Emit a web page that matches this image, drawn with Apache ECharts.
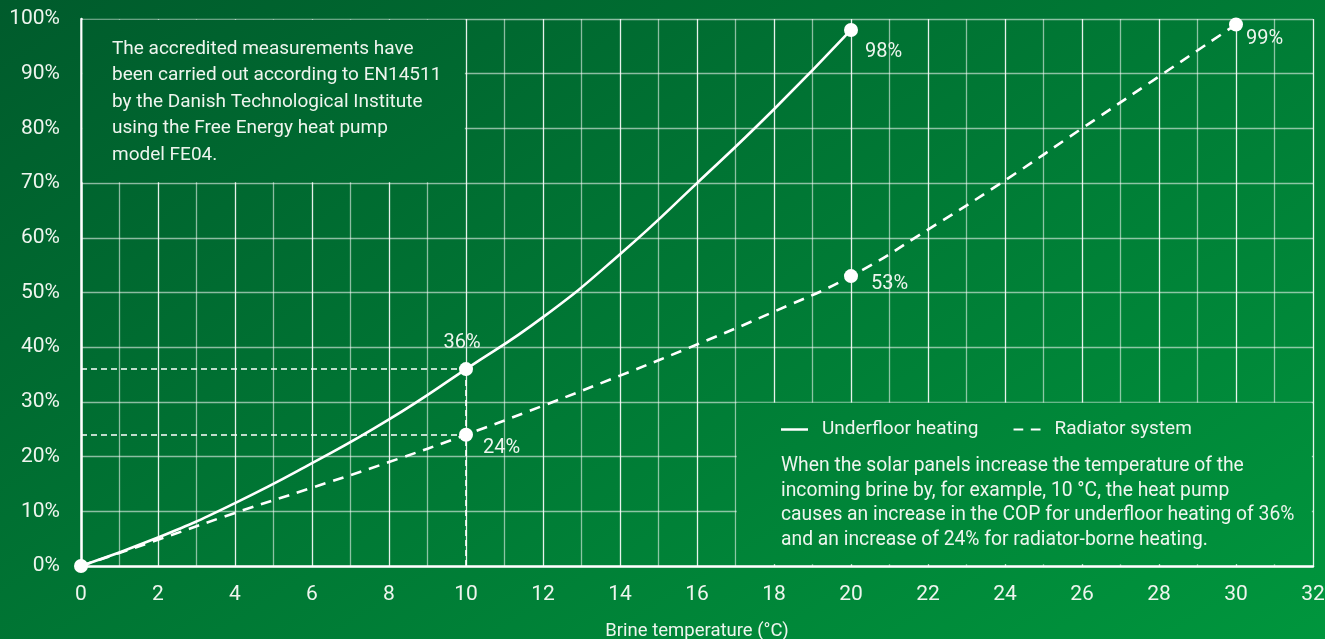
<!DOCTYPE html>
<html>
<head>
<meta charset="utf-8">
<script src="https://cdn.jsdelivr.net/npm/echarts@6/dist/echarts.min.js"></script>
<style>
html,body{margin:0;padding:0;background:#006a30;overflow:hidden;}
#chart{width:1325px;height:639px;}
</style>
</head>
<body>
<div id="chart"></div>
<script>
// ---- data ----
const xTicks = [0, 2, 4, 6, 8, 10, 12, 14, 16, 18, 20, 22, 24, 26, 28, 30, 32];
const yTicks = [0, 10, 20, 30, 40, 50, 60, 70, 80, 90, 100];
const underfloorX = [0, 2, 4, 6, 8, 10, 12, 14, 16, 18, 20];
const underfloorY = [0, 5.2, 11.5, 18.8, 26.8, 36, 45.5, 57, 70, 83.5, 98];
const radiatorX = [0, 2, 4, 6, 8, 10, 12, 14, 16, 18, 20, 22, 24, 26, 28, 30];
const radiatorY = [0, 4.8, 9.7, 14.3, 19, 24, 29.3, 34.8, 40.5, 46.5, 53, 61.5, 70.5, 80, 89.5, 99];
const pointX = [0, 10, 10, 20, 20, 30];
const pointY = [0, 36, 24, 98, 53, 99];
const pointLabels = ['', '36%', '24%', '98%', '53%', '99%'];
const seriesNames = ['Underfloor heating', 'Radiator system'];
const xAxisName = 'Brine temperature (°C)';
const noteTop = 'The accredited measurements have\nbeen carried out according to EN14511\nby the Danish Technological Institute\nusing the Free Energy heat pump\nmodel FE04.';
const noteBottom = 'When the solar panels increase the temperature of the\nincoming brine by, for example, 10 °C, the heat pump\ncauses an increase in the COP for underfloor heating of 36%\nand an increase of 24% for radiator-borne heating.';
// ---- end data ----

const FONT = "'Roboto',sans-serif";
const TXT = '#eef5ee';
const bgGrad = {
  type: 'linear', global: true, x: 0, y: 0, x2: 659, y2: 1055,
  colorStops: [{offset: 0, color: '#005b2c'}, {offset: 1, color: '#00963d'}]
};

const zip = (xs, ys) => xs.map((x, i) => [x, ys[i]]);

const labelPlace = {
  '36%': {position: 'top', distance: 9, offset: [-4, 0]},
  '24%': {position: 'right', distance: 10, offset: [0, 13]},
  '98%': {position: 'right', distance: 7, offset: [0, 22]},
  '53%': {position: 'right', distance: 13, offset: [0, 8]},
  '99%': {position: 'right', distance: 3, offset: [0, 15]}
};

const pointData = pointX.map((x, i) => {
  const t = pointLabels[i];
  const item = {value: [x, pointY[i]]};
  if (t) {
    item.label = Object.assign({show: true, formatter: t}, labelPlace[t]);
  }
  return item;
});

const refX = pointX[1], refU = pointY[1], refR = pointY[2];

const chart = echarts.init(document.getElementById('chart'), null, {renderer: 'canvas'});
chart.setOption({
  backgroundColor: bgGrad,
  animation: false,
  textStyle: {fontFamily: FONT},
  grid: {left: 81, right: 12, top: 19, bottom: 73, containLabel: false, outerBoundsMode: 'none'},
  xAxis: {
    type: 'value', min: xTicks[0], max: xTicks[xTicks.length - 1], interval: 1,
    name: xAxisName, nameLocation: 'middle', nameGap: 56,
    nameTextStyle: {color: TXT, fontSize: 18.5, fontFamily: FONT},
    axisLine: {show: true, onZero: false, lineStyle: {color: '#ffffff', width: 2.5}},
    axisTick: {show: false},
    axisLabel: {
      color: TXT, fontSize: 21, fontFamily: FONT, margin: 18,
      formatter: v => (xTicks.indexOf(v) >= 0 ? String(v) : '')
    },
    splitLine: {show: true, lineStyle: {color: ['rgba(255,255,255,0.9)', 'rgba(255,255,255,0.55)'], width: 1.3}}
  },
  yAxis: {
    type: 'value', min: yTicks[0], max: yTicks[yTicks.length - 1], interval: 10,
    axisLine: {show: true, onZero: false, lineStyle: {color: '#ffffff', width: 2.5}},
    axisTick: {show: false},
    axisLabel: {color: TXT, fontSize: 21, fontFamily: FONT, margin: 21, formatter: '{value}%'},
    splitLine: {show: true, lineStyle: {color: 'rgba(255,255,255,0.55)', width: 1.3}}
  },
  legend: {
    data: [
      {name: seriesNames[0], icon: 'rect'},
      {name: seriesNames[1], icon: 'path://M0,0H9V2H0ZM16,0H25V2H16Z'}
    ],
    left: 781, top: 420, padding: 0,
    itemWidth: 27, itemHeight: 2.5, itemGap: 35,
    textStyle: {color: TXT, fontSize: 19, fontFamily: FONT, padding: [0, 0, 0, 9]},
    selectedMode: false
  },
  graphic: [
    {
      type: 'text', left: 112, top: 36, z: 10,
      style: {text: noteTop, fill: TXT, font: '19px ' + FONT, lineHeight: 26.4}
    },
    {
      type: 'text', left: 781, top: 454, z: 10,
      style: {text: noteBottom, fill: TXT, font: '19.3px ' + FONT, lineHeight: 24.5}
    }
  ],
  series: [
    {
      name: seriesNames[0], type: 'line', smooth: true, symbol: 'none', z: 3,
      data: zip(underfloorX, underfloorY),
      lineStyle: {color: '#ffffff', width: 2.6},
      itemStyle: {color: '#ffffff'},
      markArea: {
        silent: true,
        itemStyle: {color: bgGrad, opacity: 1},
        data: [
          [{coord: [0.04, 99.85]}, {coord: [9.97, 70.15]}],
          [{coord: [17.03, 29.85]}, {coord: [31.97, 0.3]}]
        ]
      },
      markLine: {
        silent: true, symbol: 'none', label: {show: false},
        lineStyle: {color: '#ffffff', type: [6, 4], width: 1.6},
        data: [
          [{coord: [0, refU]}, {coord: [refX, refU]}],
          [{coord: [0, refR]}, {coord: [refX, refR]}],
          [{coord: [refX, 0]}, {coord: [refX, refU]}]
        ]
      }
    },
    {
      name: seriesNames[1], type: 'line', smooth: true, symbol: 'none', z: 3,
      data: zip(radiatorX, radiatorY),
      lineStyle: {color: '#ffffff', width: 2.6, type: [11, 8]},
      itemStyle: {color: '#ffffff'}
    },
    {
      name: 'points', type: 'scatter', symbol: 'circle', symbolSize: 14, z: 5,
      data: pointData,
      itemStyle: {color: '#ffffff', opacity: 1},
      label: {color: TXT, fontSize: 20, fontFamily: FONT}
    }
  ]
});
</script>
</body>
</html>
